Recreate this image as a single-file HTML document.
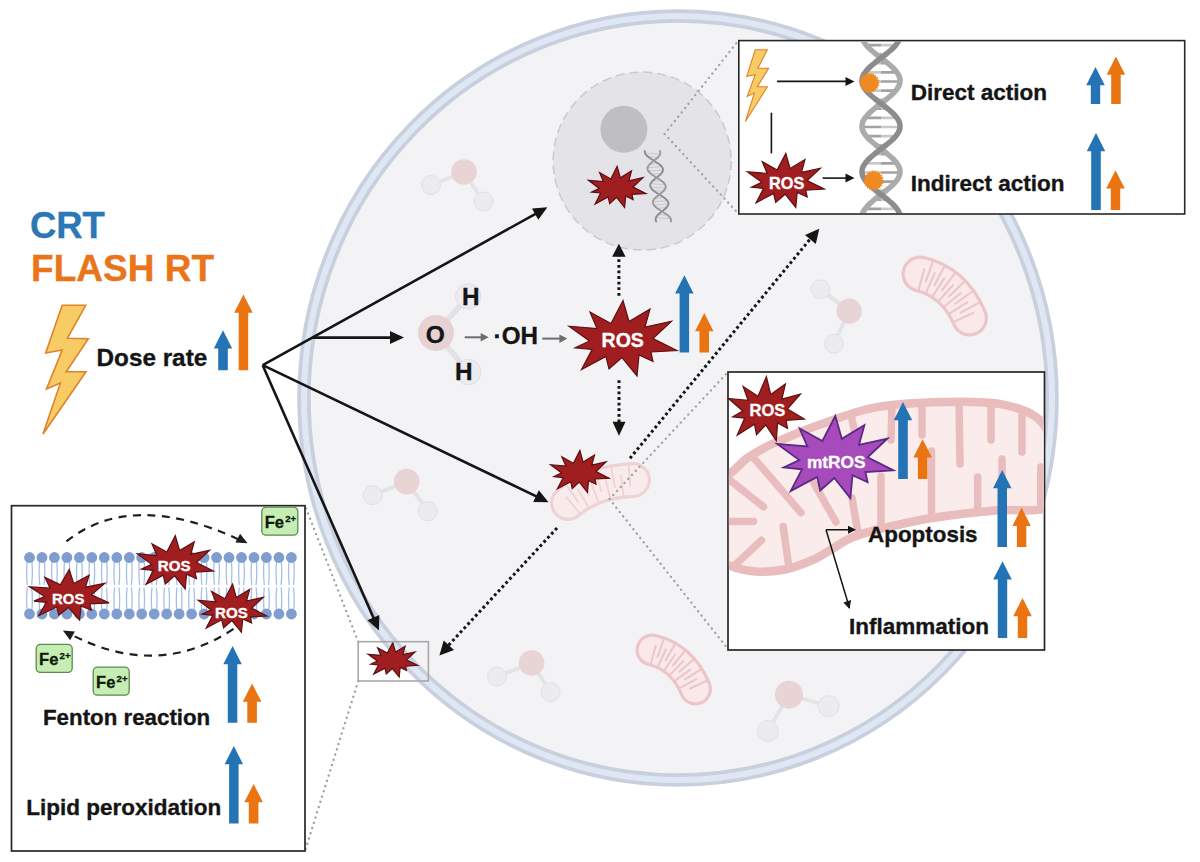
<!DOCTYPE html>
<html><head><meta charset="utf-8"><style>
html,body{margin:0;padding:0;background:#fff;}
svg{display:block;}
text{font-family:"Liberation Sans",sans-serif;font-weight:bold;}
</style></head><body>
<svg width="1200" height="862" viewBox="0 0 1200 862">
<rect x="0" y="0" width="1200" height="862" fill="#ffffff"/>
<ellipse cx="678" cy="398" rx="374" ry="382" fill="#f3f3f5"/>
<ellipse cx="678" cy="398" rx="374" ry="382" fill="none" stroke="#c8d0de" stroke-width="13.5"/>
<ellipse cx="678" cy="398" rx="374" ry="382" fill="none" stroke="#dfe7f4" stroke-width="6"/>
<g opacity="1.0"><line x1="464" y1="172" x2="431" y2="185" stroke="#e4e4e7" stroke-width="4"/><line x1="464" y1="172" x2="483.5" y2="201.5" stroke="#e4e4e7" stroke-width="4"/><circle cx="431" cy="185" r="9.5" fill="#ececef" stroke="#e1e1e5" stroke-width="1"/><circle cx="483.5" cy="201.5" r="9.5" fill="#ececef" stroke="#e1e1e5" stroke-width="1"/><circle cx="464" cy="172" r="12.8" fill="#e8d3d5"/></g>
<g opacity="1.0"><line x1="849.2" y1="311.2" x2="820.5" y2="289.3" stroke="#e4e4e7" stroke-width="4"/><line x1="849.2" y1="311.2" x2="833.9" y2="343.7" stroke="#e4e4e7" stroke-width="4"/><circle cx="820.5" cy="289.3" r="9.4" fill="#ececef" stroke="#e1e1e5" stroke-width="1"/><circle cx="833.9" cy="343.7" r="9.4" fill="#ececef" stroke="#e1e1e5" stroke-width="1"/><circle cx="849.2" cy="311.2" r="12.6" fill="#e8d3d5"/></g>
<g opacity="1.0"><line x1="406.8" y1="481.6" x2="372.7" y2="495.2" stroke="#e4e4e7" stroke-width="4"/><line x1="406.8" y1="481.6" x2="427.8" y2="511.2" stroke="#e4e4e7" stroke-width="4"/><circle cx="372.7" cy="495.2" r="9.5" fill="#ececef" stroke="#e1e1e5" stroke-width="1"/><circle cx="427.8" cy="511.2" r="9.5" fill="#ececef" stroke="#e1e1e5" stroke-width="1"/><circle cx="406.8" cy="481.6" r="12.8" fill="#e8d3d5"/></g>
<g opacity="1.0"><line x1="531.6" y1="663" x2="497" y2="676.6" stroke="#e4e4e7" stroke-width="4"/><line x1="531.6" y1="663" x2="550.6" y2="692" stroke="#e4e4e7" stroke-width="4"/><circle cx="497" cy="676.6" r="9.5" fill="#ececef" stroke="#e1e1e5" stroke-width="1"/><circle cx="550.6" cy="692" r="9.5" fill="#ececef" stroke="#e1e1e5" stroke-width="1"/><circle cx="531.6" cy="663" r="12.8" fill="#e8d3d5"/></g>
<g opacity="1.0"><line x1="789" y1="694.7" x2="828.6" y2="706.2" stroke="#e4e4e7" stroke-width="4"/><line x1="789" y1="694.7" x2="767.9" y2="731" stroke="#e4e4e7" stroke-width="4"/><circle cx="828.6" cy="706.2" r="10.5" fill="#ececef" stroke="#e1e1e5" stroke-width="1"/><circle cx="767.9" cy="731" r="10.5" fill="#ececef" stroke="#e1e1e5" stroke-width="1"/><circle cx="789" cy="694.7" r="14" fill="#e8d3d5"/></g>
<g opacity="1.0"><path d="M920,274 Q954,282 969.5,318" fill="none" stroke="#ebc5c8" stroke-width="37" stroke-linecap="round"/><path d="M920,274 Q954,282 969.5,318" fill="none" stroke="#fae8ea" stroke-width="30.6" stroke-linecap="round"/><path d="M918.5,290.1 L924.2,269.3 M933,261.2 L925.8,281.5 M926,292.7 L934.7,273.1 M944.5,266.3 L934.4,285.3 M932.7,296.3 L944.3,278.2 M955.1,273.1 L942.1,290.2 M938.8,300.9 L953.1,284.9 M964.5,281.5 L949.1,296.4 M944.3,306.6 L960.8,292.9 M972.7,291.3 L955.3,303.8 M949.3,313.6 L967.5,302.2 M979.7,302.4 L960.7,312.6 M953.8,321.9 L973.3,312.8 " stroke="#ebc5c8" stroke-width="2.0" stroke-linecap="round" fill="none"/></g>
<g opacity="1.0"><path d="M652,650 Q682,657 695.5,689" fill="none" stroke="#ebc5c8" stroke-width="33" stroke-linecap="round"/><path d="M652,650 Q682,657 695.5,689" fill="none" stroke="#fae8ea" stroke-width="26.6" stroke-linecap="round"/><path d="M650.7,664 L655.7,645.8 M663.9,639 L657.5,656.8 M657.9,666.6 L665.8,649.5 M674.9,644.1 L665.6,660.5 M664.3,670.2 L675,654.7 M684.9,650.9 L672.9,665.5 M669.9,674.9 L683.1,661.4 M693.6,659.4 L679.3,671.8 M675,680.8 L690.2,669.6 M701,669.4 L685,679.4 M679.6,688.1 L696.3,679.1 M707.1,680.7 L689.9,688.5 " stroke="#ebc5c8" stroke-width="2.0" stroke-linecap="round" fill="none"/></g>
<circle cx="642.2" cy="161.1" r="89" fill="#e4e4e8" stroke="#cacace" stroke-width="1.5" stroke-dasharray="9,5"/>
<circle cx="623.9" cy="129.3" r="23.5" fill="#bfbfc2"/>
<path d="M664.6,134 L738.8,40 M664.6,134 L738.8,214" stroke="#a0a0a0" stroke-width="2.3" stroke-dasharray="0.1,5.4" stroke-linecap="round" fill="none"/>
<path d="M358.2,641.7 L305,505.7 M358.2,681 L305,851" stroke="#a0a0a0" stroke-width="2.3" stroke-dasharray="0.1,5.4" stroke-linecap="round" fill="none"/>
<path d="M645,153 L660.3,154.2 M647.7,156.4 L658.7,157.6 M657.7,163.2 L650.8,164.4 M661.7,166.6 L648,167.8 M663,170 L647.8,171.2 M661.3,173.4 L650.5,174.6 M653.4,180.2 L660.6,181.4 M650.6,183.6 L664.5,184.8 M650.5,187 L665.7,188.2 M653.3,190.4 L664,191.6 M663.4,197.2 L656,198.4 M667.3,200.6 L653.3,201.8 M668.4,204 L653.3,205.2 M666.6,207.4 L656.2,208.6 M658.6,214.2 L666.3,215.4 M656,217.6 L670,218.8 " stroke="#c9c9cb" stroke-width="1" fill="none"/>
<polyline points="644.8,151 644.8,151.5 644.8,152 644.9,152.5 645,153 645.2,153.5 645.5,154 645.9,154.5 646.3,155 646.7,155.5 647.2,156 647.8,156.5 648.4,157 649.1,157.5 649.8,158 650.5,158.5 651.2,159 652,159.5 652.8,160 653.6,160.5 654.4,161 655.2,161.5 655.9,162 656.7,162.5 657.5,163 658.2,163.5 658.9,164 659.5,164.5 660.1,165 660.7,165.5 661.2,166 661.6,166.5 662,167 662.3,167.5 662.6,168 662.8,168.5 662.9,169 663,169.5 663,170 662.9,170.5 662.8,171 662.6,171.5 662.3,172 662,172.5 661.7,173 661.3,173.5 660.8,174 660.3,174.5 659.8,175 659.2,175.5 658.6,176 658,176.5 657.4,177 656.7,177.5 656.1,178 655.5,178.5 654.8,179 654.2,179.5 653.7,180 653.1,180.5 652.6,181 652.1,181.5 651.7,182 651.3,182.5 651,183 650.7,183.5 650.5,184 650.3,184.5 650.2,185 650.2,185.5 650.2,186 650.3,186.5 650.5,187 650.8,187.5 651.1,188 651.4,188.5 651.8,189 652.3,189.5 652.9,190 653.4,190.5 654.1,191 654.7,191.5 655.4,192 656.2,192.5 656.9,193 657.7,193.5 658.5,194 659.3,194.5 660.1,195 660.9,195.5 661.7,196 662.4,196.5 663.2,197 663.9,197.5 664.5,198 665.2,198.5 665.7,199 666.3,199.5 666.8,200 667.2,200.5 667.5,201 667.8,201.5 668.1,202 668.3,202.5 668.4,203 668.4,203.5 668.4,204 668.3,204.5 668.1,205 667.9,205.5 667.6,206 667.3,206.5 666.9,207 666.5,207.5 666,208 665.5,208.5 664.9,209 664.4,209.5 663.8,210 663.1,210.5 662.5,211 661.9,211.5 661.2,212 660.6,212.5 660,213 659.4,213.5 658.8,214 658.3,214.5 657.8,215 657.3,215.5 656.9,216 656.6,216.5 656.3,217 656,217.5 655.8,218 655.7,218.5 655.6,219 655.6,219.5 655.7,220 655.8,220.5 656,221 656.3,221.5" stroke="#8c8c8c" stroke-width="1.9" fill="none" stroke-linecap="round"/>
<polyline points="659.8,151 660,151.5 660.2,152 660.3,152.5 660.3,153 660.2,153.5 660.1,154 659.9,154.5 659.7,155 659.4,155.5 659,156 658.6,156.5 658.2,157 657.7,157.5 657.2,158 656.6,158.5 656,159 655.4,159.5 654.8,160 654.1,160.5 653.5,161 652.9,161.5 652.3,162 651.7,162.5 651.1,163 650.5,163.5 650,164 649.5,164.5 649.1,165 648.7,165.5 648.3,166 648,166.5 647.8,167 647.6,167.5 647.5,168 647.5,168.5 647.5,169 647.6,169.5 647.8,170 648,170.5 648.3,171 648.6,171.5 649.1,172 649.5,172.5 650,173 650.6,173.5 651.2,174 651.9,174.5 652.6,175 653.3,175.5 654.1,176 654.9,176.5 655.6,177 656.4,177.5 657.2,178 658,178.5 658.8,179 659.6,179.5 660.3,180 661,180.5 661.7,181 662.3,181.5 662.9,182 663.5,182.5 664,183 664.4,183.5 664.8,184 665.1,184.5 665.3,185 665.5,185.5 665.6,186 665.7,186.5 665.7,187 665.6,187.5 665.5,188 665.3,188.5 665,189 664.7,189.5 664.3,190 663.9,190.5 663.4,191 662.9,191.5 662.4,192 661.8,192.5 661.2,193 660.6,193.5 659.9,194 659.3,194.5 658.7,195 658,195.5 657.4,196 656.8,196.5 656.2,197 655.7,197.5 655.2,198 654.7,198.5 654.3,199 653.9,199.5 653.6,200 653.3,200.5 653.1,201 653,201.5 652.9,202 652.9,202.5 653,203 653.1,203.5 653.3,204 653.5,204.5 653.8,205 654.2,205.5 654.6,206 655.1,206.5 655.7,207 656.3,207.5 656.9,208 657.6,208.5 658.3,209 659,209.5 659.8,210 660.6,210.5 661.4,211 662.2,211.5 663,212 663.7,212.5 664.5,213 665.3,213.5 666,214 666.7,214.5 667.4,215 668,215.5 668.6,216 669.1,216.5 669.5,217 670,217.5 670.3,218 670.6,218.5 670.8,219 671,219.5 671.1,220 671.1,220.5 671.1,221 671,221.5" stroke="#9a9a9a" stroke-width="1.9" fill="none" stroke-linecap="round"/>
<polygon points="617.1,166.3 620.4,177.8 631.5,170.9 628.9,180.8 643,177.6 633.1,187 645.9,193.6 632,194.4 633.1,199.6 625.7,196 624.6,207.5 616.6,197.4 609.7,203.7 608.1,196.9 595.1,204 600.6,193 591.6,192.1 599.3,188.4 588.4,180.3 603.3,181.6 599.6,172.6 610.8,178.9" fill="#a01d20" stroke="#5c1012" stroke-width="1.2" stroke-linejoin="miter"/>
<g opacity="1.0"><path d="M568,503 Q592,482 633,480" fill="none" stroke="#efd2d4" stroke-width="36" stroke-linecap="round"/><path d="M568,503 Q592,482 633,480" fill="none" stroke="#f9ebec" stroke-width="29.6" stroke-linecap="round"/><path d="M579.7,513.3 L566.5,497.2 M566.4,484.7 L578.2,501.9 M588.5,507.2 L578,489.2 M580,476.8 L589,495.6 M598.6,502.3 L591,483 M595,470.9 L601.2,490.8 M610.3,498.7 L605.3,478.4 M611.2,466.9 L614.9,487.4 M623.5,496.3 L621,475.6 M628.7,464.8 L630.1,485.6 " stroke="#efd2d4" stroke-width="1.8" stroke-linecap="round" fill="none"/></g>
<path d="M609.5,499 L728,372 M609.5,499 L728,649" stroke="#a0a0a0" stroke-width="2.3" stroke-dasharray="0.1,5.4" stroke-linecap="round" fill="none"/>
<path d="M618.9,295.7 L618.9,254" stroke="#151515" stroke-width="3" stroke-dasharray="2.8,2.8" fill="none"/>
<path d="M618.9,243.8 L625.6,256.8 L612.1,256.8 Z" fill="#151515"/>
<path d="M619,380.3 L619,424" stroke="#151515" stroke-width="3" stroke-dasharray="2.8,2.8" fill="none"/>
<path d="M619,435.8 L612.5,421.8 L625.5,421.8 Z" fill="#151515"/>
<path d="M630,458.3 L811,238" stroke="#151515" stroke-width="3" stroke-dasharray="2.8,2.8" fill="none"/>
<path d="M819.3,228.7 L815.8,244 L805,235 Z" fill="#151515"/>
<path d="M557,528 L446,648" stroke="#151515" stroke-width="3" stroke-dasharray="2.8,2.8" fill="none"/>
<path d="M439.4,655.5 L443.7,640.5 L454,650 Z" fill="#151515"/>
<polygon points="579.9,450.4 583.1,462.1 594.5,455.1 591.8,465.1 606.1,461.9 596.1,471.5 609.1,478.2 595,479 596.1,484.3 588.5,480.7 587.5,492.4 579.3,482.1 572.2,488.5 570.7,481.6 557.4,488.8 563.1,477.7 553.9,476.7 561.7,472.9 550.6,464.7 565.8,466 561.9,456.8 573.4,463.2" fill="#a01d20" stroke="#5c1012" stroke-width="1.2" stroke-linejoin="miter"/>
<polygon points="392.8,642.5 395.5,652.1 405.1,646.4 402.8,654.6 415,652 406.5,659.9 417.5,665.4 405.6,666.1 406.5,670.5 400.1,667.5 399.2,677.1 392.3,668.6 386.3,673.9 385,668.2 373.7,674.1 378.5,665 370.8,664.2 377.4,661 368,654.3 380.8,655.3 377.6,647.8 387.3,653.1" fill="#a01d20" stroke="#5c1012" stroke-width="1.2" stroke-linejoin="miter"/>
<rect x="358.2" y="641.7" width="70.2" height="39.3" fill="none" stroke="#a8a8a8" stroke-width="1.6"/>
<line x1="262.7" y1="365.2" x2="536" y2="213.6" stroke="#151515" stroke-width="2.6"/>
<path d="M547.4,207.3 L538.3,219.8 L532,208.4 Z" fill="#151515"/>
<line x1="312.3" y1="337.6" x2="391" y2="337.6" stroke="#151515" stroke-width="2.6"/>
<path d="M404,337.6 L390,344.1 L390,331.1 Z" fill="#151515"/>
<line x1="262.7" y1="365.2" x2="536.9" y2="496.6" stroke="#151515" stroke-width="2.6"/>
<path d="M548.6,502.2 L533.2,502 L538.8,490.3 Z" fill="#151515"/>
<line x1="262.7" y1="365.2" x2="373.8" y2="618.5" stroke="#151515" stroke-width="2.6"/>
<path d="M379,630.4 L367.4,620.2 L379.3,615 Z" fill="#151515"/>
<g opacity="1.0"><line x1="436" y1="332.9" x2="468.3" y2="296.3" stroke="#e2e2e5" stroke-width="5.5"/><line x1="436" y1="332.9" x2="468.3" y2="372" stroke="#e2e2e5" stroke-width="5.5"/><circle cx="468.3" cy="296.3" r="12.7" fill="#ececef" stroke="#e0e0e4" stroke-width="1"/><circle cx="468.3" cy="372" r="12.7" fill="#ececef" stroke="#e0e0e4" stroke-width="1"/><circle cx="436" cy="332.9" r="18" fill="#e6d1d3"/></g>
<text x="425.8" y="343.3" font-size="24.5" fill="#151515" stroke="#151515" stroke-width="0.35" >O</text>
<text x="462.1" y="305.3" font-size="24.3" fill="#151515" stroke="#151515" stroke-width="0.35" >H</text>
<text x="454.9" y="380" font-size="24.3" fill="#151515" stroke="#151515" stroke-width="0.35" >H</text>
<line x1="464.7" y1="337.3" x2="481.7" y2="337.3" stroke="#6e6e6e" stroke-width="2"/>
<path d="M488.7,337.3 L480.7,341.6 L480.7,333.1 Z" fill="#6e6e6e"/>
<text x="493.6" y="344" font-size="24.2" fill="#151515" stroke="#151515" stroke-width="0.35" >·OH</text>
<line x1="542.3" y1="338.6" x2="560.4" y2="338.6" stroke="#6e6e6e" stroke-width="2"/>
<path d="M567.4,338.6 L559.4,342.9 L559.4,334.4 Z" fill="#6e6e6e"/>
<polygon points="623,300.5 629,321.5 650,309 645,327 671.5,321.2 653,338.5 677,350.5 651,352 653,361.5 639,355 637,376 622,357.5 609,369 606,356.5 581.5,369.5 592,349.5 575,347.8 589.5,341 569,326.2 597,328.5 590,312 611,323.5" fill="#a01d20" stroke="#5c1012" stroke-width="1.2" stroke-linejoin="miter"/>
<text x="601.6" y="346.7" font-size="19.5" fill="#ffffff" stroke="#ffffff" stroke-width="0.35" >ROS</text>
<path d="M684.4,275.3 L693.6,293.6 L689.1,293.6 L689.1,352.5 L679.6,352.5 L679.6,293.6 L675.1,293.6 Z" fill="#2474b5"/>
<path d="M704.3,313 L713.5,331.3 L709,331.3 L709,352.5 L699.5,352.5 L699.5,331.3 L695,331.3 Z" fill="#ea7411"/>
<text x="29.9" y="237.6" font-size="36.5" fill="#2a78b6" stroke="#2a78b6" stroke-width="0.35" >CRT</text>
<text x="31.1" y="281" font-size="37" fill="#e9741a" stroke="#e9741a" stroke-width="0.35" >FLASH RT</text>
<polygon points="62.2,305.3 85.7,305.3 67.4,338.3 88.3,338.7 66.2,371.7 86.0,371.7 43.0,434.0 60.4,383.0 46.5,389.1 62.2,350.0 45.7,353.0" fill="#f7cc64" stroke="#e0822c" stroke-width="1.6" stroke-linejoin="miter"/>
<text x="96.5" y="365.5" font-size="24.3" fill="#151515" stroke="#151515" stroke-width="0.35" >Dose rate</text>
<path d="M223,330.2 L232.2,348.5 L227.8,348.5 L227.8,370.2 L218.2,370.2 L218.2,348.5 L213.8,348.5 Z" fill="#2474b5"/>
<path d="M243.4,294.5 L252.7,312.8 L248.2,312.8 L248.2,370.2 L238.7,370.2 L238.7,312.8 L234.2,312.8 Z" fill="#ea7411"/>
<rect x="738.8" y="40.6" width="445.9" height="173.4" fill="#ffffff" stroke="#262626" stroke-width="1.6"/>
<clipPath id="trc"><rect x="739.7" y="40.9" width="444.1" height="172.2"/></clipPath>
<g clip-path="url(#trc)"><path d="M900,36 L881,36 M895.8,45.1 L881,45.1 M885.9,54.2 L881,54.2 M874.2,63.3 L881,63.3 M865.1,72.4 L881,72.4 M862,81.5 L881,81.5 M866.2,90.6 L881,90.6 M876.1,99.7 L881,99.7 M887.8,108.8 L881,108.8 M896.9,117.9 L881,117.9 M900,127 L881,127 M895.8,136.1 L881,136.1 M885.9,145.2 L881,145.2 M874.2,154.3 L881,154.3 M865.1,163.4 L881,163.4 M862,172.5 L881,172.5 M866.2,181.6 L881,181.6 M876.1,190.7 L881,190.7 M887.8,199.8 L881,199.8 M896.9,208.9 L881,208.9 M900,218 L881,218 " stroke="#c9c9c9" stroke-width="2.6" fill="none"/><path d="M881,36 L862,36 M881,45.1 L866.2,45.1 M881,54.2 L876.1,54.2 M881,63.3 L887.8,63.3 M881,72.4 L896.9,72.4 M881,81.5 L900,81.5 M881,90.6 L895.8,90.6 M881,99.7 L885.9,99.7 M881,108.8 L874.2,108.8 M881,117.9 L865.1,117.9 M881,127 L862,127 M881,136.1 L866.2,136.1 M881,145.2 L876.1,145.2 M881,154.3 L887.8,154.3 M881,163.4 L896.9,163.4 M881,172.5 L900,172.5 M881,181.6 L895.8,181.6 M881,190.7 L885.9,190.7 M881,199.8 L874.2,199.8 M881,208.9 L865.1,208.9 M881,218 L862,218 " stroke="#a2a2a2" stroke-width="2.6" fill="none"/><polyline points="863.2,30 862.8,31 862.5,32 862.2,33 862.1,34 862,35 862,36 862.1,37 862.3,38 862.6,39 863,40 863.5,41 864,42 864.7,43 865.4,44 866.1,45 867,46 867.9,47 868.9,48 869.9,49 871,50 872.2,51 873.4,52 874.6,53 875.8,54 877.1,55 878.4,56 879.7,57 881,58 882.3,59 883.6,60 884.9,61 886.2,62 887.4,63 888.6,64 889.8,65 891,66 892.1,67 893.1,68 894.1,69 895,70 895.9,71 896.6,72 897.3,73 898,74 898.5,75 899,76 899.4,77 899.7,78 899.9,79 900,80 900,81 899.9,82 899.8,83 899.5,84 899.2,85 898.8,86 898.3,87 897.7,88 897,89 896.3,90 895.4,91 894.6,92 893.6,93 892.6,94 891.5,95 890.4,96 889.2,97 888,98 886.8,99 885.5,100 884.3,101 883,102 881.7,103 880.3,104 879,105 877.7,106 876.5,107 875.2,108 874,109 872.8,110 871.6,111 870.5,112 869.4,113 868.4,114 867.4,115 866.6,116 865.7,117 865,118 864.3,119 863.7,120 863.2,121 862.8,122 862.5,123 862.2,124 862.1,125 862,126 862,127 862.1,128 862.3,129 862.6,130 863,131 863.5,132 864,133 864.7,134 865.4,135 866.1,136 867,137 867.9,138 868.9,139 869.9,140 871,141 872.2,142 873.4,143 874.6,144 875.8,145 877.1,146 878.4,147 879.7,148 881,149 882.3,150 883.6,151 884.9,152 886.2,153 887.4,154 888.6,155 889.8,156 891,157 892.1,158 893.1,159 894.1,160 895,161 895.9,162 896.6,163 897.3,164 898,165 898.5,166 899,167 899.4,168 899.7,169 899.9,170 900,171 900,172 899.9,173 899.8,174 899.5,175 899.2,176 898.8,177 898.3,178 897.7,179 897,180 896.3,181 895.4,182 894.6,183 893.6,184 892.6,185 891.5,186 890.4,187 889.2,188 888,189 886.8,190 885.5,191 884.3,192 883,193 881.7,194 880.3,195 879,196 877.7,197 876.5,198 875.2,199 874,200 872.8,201 871.6,202 870.5,203 869.4,204 868.4,205 867.4,206 866.6,207 865.7,208 865,209 864.3,210 863.7,211 863.2,212 862.8,213 862.5,214 862.2,215 862.1,216 862,217 862,218 862.1,219 862.3,220 862.6,221 863,222 863.5,223 864,224 864.7,225 865.4,226 866.1,227 867,228 867.9,229" stroke="#ababab" stroke-width="5.5" fill="none"/><polyline points="898.8,30 899.2,31 899.5,32 899.8,33 899.9,34 900,35 900,36 899.9,37 899.7,38 899.4,39 899,40 898.5,41 898,42 897.3,43 896.6,44 895.9,45 895,46 894.1,47 893.1,48 892.1,49 891,50 889.8,51 888.6,52 887.4,53 886.2,54 884.9,55 883.6,56 882.3,57 881,58 879.7,59 878.4,60 877.1,61 875.8,62 874.6,63 873.4,64 872.2,65 871,66 869.9,67 868.9,68 867.9,69 867,70 866.1,71 865.4,72 864.7,73 864,74 863.5,75 863,76 862.6,77 862.3,78 862.1,79 862,80 862,81 862.1,82 862.2,83 862.5,84 862.8,85 863.2,86 863.7,87 864.3,88 865,89 865.7,90 866.6,91 867.4,92 868.4,93 869.4,94 870.5,95 871.6,96 872.8,97 874,98 875.2,99 876.5,100 877.7,101 879,102 880.3,103 881.7,104 883,105 884.3,106 885.5,107 886.8,108 888,109 889.2,110 890.4,111 891.5,112 892.6,113 893.6,114 894.6,115 895.4,116 896.3,117 897,118 897.7,119 898.3,120 898.8,121 899.2,122 899.5,123 899.8,124 899.9,125 900,126 900,127 899.9,128 899.7,129 899.4,130 899,131 898.5,132 898,133 897.3,134 896.6,135 895.9,136 895,137 894.1,138 893.1,139 892.1,140 891,141 889.8,142 888.6,143 887.4,144 886.2,145 884.9,146 883.6,147 882.3,148 881,149 879.7,150 878.4,151 877.1,152 875.8,153 874.6,154 873.4,155 872.2,156 871,157 869.9,158 868.9,159 867.9,160 867,161 866.1,162 865.4,163 864.7,164 864,165 863.5,166 863,167 862.6,168 862.3,169 862.1,170 862,171 862,172 862.1,173 862.2,174 862.5,175 862.8,176 863.2,177 863.7,178 864.3,179 865,180 865.7,181 866.6,182 867.4,183 868.4,184 869.4,185 870.5,186 871.6,187 872.8,188 874,189 875.2,190 876.5,191 877.7,192 879,193 880.3,194 881.7,195 883,196 884.3,197 885.5,198 886.8,199 888,200 889.2,201 890.4,202 891.5,203 892.6,204 893.6,205 894.6,206 895.4,207 896.3,208 897,209 897.7,210 898.3,211 898.8,212 899.2,213 899.5,214 899.8,215 899.9,216 900,217 900,218 899.9,219 899.7,220 899.4,221 899,222 898.5,223 898,224 897.3,225 896.6,226 895.9,227 895,228 894.1,229" stroke="#8c8c8c" stroke-width="5.5" fill="none"/></g>
<polygon points="880,82.9 878,84.1 879.6,85.9 877.3,86.5 878.3,88.6 876,88.5 876.4,90.8 874.2,90.1 873.9,92.5 871.9,91.2 871,93.3 869.5,91.5 868,93.3 867.1,91.2 865.1,92.5 864.8,90.1 862.6,90.8 863,88.5 860.7,88.6 861.7,86.5 859.4,85.9 861,84.1 859,82.9 861,81.7 859.4,79.9 861.7,79.3 860.7,77.2 863,77.3 862.6,75 864.8,75.7 865.1,73.3 867.1,74.6 868,72.5 869.5,74.3 871,72.5 871.9,74.6 873.9,73.3 874.2,75.7 876.4,75 876,77.3 878.3,77.2 877.3,79.3 879.6,79.9 878,81.7" fill="#ef8a22"/>
<polygon points="884.2,180.5 882.2,181.7 883.8,183.5 881.5,184.1 882.5,186.2 880.2,186.1 880.6,188.4 878.4,187.7 878.1,190.1 876.1,188.8 875.2,190.9 873.7,189.1 872.2,190.9 871.3,188.8 869.3,190.1 869,187.7 866.8,188.4 867.2,186.1 864.9,186.2 865.9,184.1 863.6,183.5 865.2,181.7 863.2,180.5 865.2,179.3 863.6,177.5 865.9,176.9 864.9,174.8 867.2,174.9 866.8,172.6 869,173.3 869.3,170.9 871.3,172.2 872.2,170.1 873.7,171.9 875.2,170.1 876.1,172.2 878.1,170.9 878.4,173.3 880.6,172.6 880.2,174.9 882.5,174.8 881.5,176.9 883.8,177.5 882.2,179.3" fill="#ef8a22"/>
<polygon points="755.2,49.8 767.3,49.8 757.9,68.2 768.6,68.4 757.3,86.8 767.4,86.8 745.4,121.5 754.3,93.1 747.2,96.5 755.2,74.7 746.8,76.4" fill="#f7cc64" stroke="#e0822c" stroke-width="1.1"/>
<line x1="777" y1="81.4" x2="846.5" y2="81.4" stroke="#151515" stroke-width="1.6"/>
<path d="M854.5,81.4 L845.5,85.9 L845.5,76.9 Z" fill="#151515"/>
<line x1="771.4" y1="112.7" x2="771.4" y2="153.4" stroke="#151515" stroke-width="1.6"/>
<polygon points="785.8,153.4 790.1,168.4 805,159.5 801.5,172.4 820.4,168.2 807.2,180.6 824.3,189.1 805.7,190.2 807.2,197 797.2,192.4 795.8,207.4 785.1,194.2 775.7,202.4 773.6,193.5 756.1,202.8 763.6,188.4 751.5,187.2 761.8,182.3 747.2,171.8 767.2,173.4 762.2,161.6 777.2,169.9" fill="#a01d20" stroke="#5c1012" stroke-width="1.2" stroke-linejoin="miter"/>
<text x="769.1" y="188.7" font-size="16.3" fill="#ffffff" stroke="#ffffff" stroke-width="0.35" >ROS</text>
<line x1="822.6" y1="178.1" x2="846.5" y2="178.1" stroke="#151515" stroke-width="1.6"/>
<path d="M854.5,178.1 L845.5,182.6 L845.5,173.6 Z" fill="#151515"/>
<text x="910.7" y="100.2" font-size="22.5" fill="#151515" stroke="#151515" stroke-width="0.35" >Direct action</text>
<text x="910.7" y="190.8" font-size="22.5" fill="#151515" stroke="#151515" stroke-width="0.35" >Indirect action</text>
<path d="M1095.5,67 L1104.8,85.3 L1100.2,85.3 L1100.2,104 L1090.8,104 L1090.8,85.3 L1086.2,85.3 Z" fill="#2474b5"/>
<path d="M1115.9,56.4 L1125.2,74.7 L1120.7,74.7 L1120.7,104 L1111.2,104 L1111.2,74.7 L1106.7,74.7 Z" fill="#ea7411"/>
<path d="M1096,132.9 L1105.2,151.2 L1100.8,151.2 L1100.8,209.9 L1091.2,209.9 L1091.2,151.2 L1086.8,151.2 Z" fill="#2474b5"/>
<path d="M1115.5,170.2 L1124.8,188.5 L1120.2,188.5 L1120.2,209.9 L1110.8,209.9 L1110.8,188.5 L1106.2,188.5 Z" fill="#ea7411"/>
<rect x="728" y="372" width="316.5" height="278" fill="#ffffff" stroke="#262626" stroke-width="1.7"/>
<clipPath id="mbc"><rect x="728.9" y="372.9" width="314.7" height="276.2"/></clipPath>
<g clip-path="url(#mbc)"><path d="M700,492 C705.3,484.2 722.3,479 730,473.5 C737.7,468 740,463.4 746,459 C752,454.6 759.3,450.5 766,447 C772.7,443.5 777.2,441.7 786,438 C794.8,434.3 804.8,429.9 819,425 C833.2,420.1 852.2,412.1 871,408.3 C889.8,404.5 911.3,403.1 932,402.3 C952.7,401.5 977.7,400.9 995,403.3 C1012.3,405.8 1026.2,410.1 1036,417 C1045.8,423.9 1050.3,434.5 1054,445 C1057.7,455.5 1059,469.6 1058,480 C1057,490.4 1058.5,502.4 1048,507.5 C1037.5,512.6 1014.3,508.8 995,510.5 C975.7,512.2 951.2,514.9 932,518 C912.8,521.1 893.3,525.8 880,529 C866.7,532.2 860,534.2 852,537.5 C844,540.8 838.6,545.2 832,549 C825.4,552.8 820.3,556.6 812.5,560 C804.7,563.4 794.5,567.6 785,569.5 C775.5,571.4 764.8,572.1 755.6,571.5 C746.4,570.9 738.4,569 730,565.8 C721.6,562.5 710.3,559.6 705,552 C699.7,544.4 698.8,530 698,520 C697.2,510 694.7,499.8 700,492 Z" fill="#fbecec" stroke="#e9bcbd" stroke-width="8.5"/><path d="M892,405 L891,440 M922,403 L922,435 M959,403 L960,464 M991,403 L991,440 M1022,410 L1022,452 M881,525 L881,476 M931.5,516 L931.5,451 M977.7,512 L977.7,477 M1002,510 L1002,459 M1040.8,508 L1040.8,467 M752,456 L801,512.7 M731,481 L763.5,506.8 M726,521.6 L753.6,521.6 M789,568 L783.2,526.5 M735,565 L761.5,540.3 M812,480 L836,522 M851,415 L858,447 M858,533 L852,498 " stroke="#e9bcbd" stroke-width="7.5" stroke-linecap="round" fill="none"/></g>
<polygon points="766.4,376.7 770.7,394.5 785.4,383.9 781.9,399.2 800.5,394.2 787.5,408.9 804.4,419.1 786.1,420.3 787.5,428.4 777.6,422.9 776.3,440.7 765.7,425 756.5,434.7 754.5,424.2 737.2,435.2 744.6,418.2 732.6,416.8 742.8,411 728.4,398.5 748.1,400.4 743.1,386.4 758,396.2" fill="#a01d20" stroke="#5c1012" stroke-width="1.2" stroke-linejoin="miter"/>
<text x="749.5" y="415.7" font-size="16.5" fill="#ffffff" stroke="#ffffff" stroke-width="0.35" >ROS</text>
<polygon points="835.3,416 841.8,438.8 864.4,425.2 859,444.8 887.5,438.5 867.6,457.3 893.4,470.4 865.4,472 867.6,482.3 852.5,475.3 850.4,498.1 834.3,478 820.2,490.5 817.1,476.9 790.7,491 802,469.3 783.7,467.4 799.3,460 777.2,443.9 807.3,446.5 799.7,428.5 822.4,441" fill="#a64abc" stroke="#5a2a85" stroke-width="1.8" stroke-linejoin="miter"/>
<text x="807" y="468.3" font-size="17.3" fill="#ffffff" stroke="#ffffff" stroke-width="0.35" >mtROS</text>
<path d="M903,402 L912.2,420.3 L907.8,420.3 L907.8,479 L898.2,479 L898.2,420.3 L893.8,420.3 Z" fill="#2474b5"/>
<path d="M922.6,439.2 L931.9,457.5 L927.4,457.5 L927.4,479 L917.9,479 L917.9,457.5 L913.4,457.5 Z" fill="#ea7411"/>
<path d="M826,529.8 L850,529.8 M826,529.8 L849.5,608" stroke="#151515" stroke-width="1.5" fill="none"/>
<path d="M856,529.8 L848,533.8 L848,525.8 Z" fill="#151515"/>
<path d="M849.5,608.9 L843.4,602.4 L851.1,600.1 Z" fill="#151515"/>
<text x="868.1" y="542.3" font-size="22.4" fill="#151515" stroke="#151515" stroke-width="0.35" >Apoptosis</text>
<text x="849.1" y="633.7" font-size="22.5" fill="#151515" stroke="#151515" stroke-width="0.35" >Inflammation</text>
<path d="M1002.2,470 L1011.5,488.3 L1007,488.3 L1007,546.9 L997.5,546.9 L997.5,488.3 L993,488.3 Z" fill="#2474b5"/>
<path d="M1021.6,507.6 L1030.8,525.9 L1026.3,525.9 L1026.3,546.9 L1016.9,546.9 L1016.9,525.9 L1012.4,525.9 Z" fill="#ea7411"/>
<path d="M1002.5,561.3 L1011.8,579.6 L1007.2,579.6 L1007.2,638 L997.8,638 L997.8,579.6 L993.2,579.6 Z" fill="#2474b5"/>
<path d="M1022.5,598 L1031.8,616.3 L1027.2,616.3 L1027.2,638 L1017.8,638 L1017.8,616.3 L1013.2,616.3 Z" fill="#ea7411"/>
<rect x="11.5" y="505.7" width="293.5" height="345.3" fill="#ffffff" stroke="#262626" stroke-width="1.7"/>
<path d="M27.1,561 Q26.1,573 27.3,585 M27.1,610 Q26.1,598 27.3,587.5 M31.9,561 Q32.9,573 31.7,585 M31.9,610 Q32.9,598 31.7,587.5 M39.6,561 Q38.6,573 39.8,585 M39.6,610 Q38.6,598 39.8,587.5 M44.4,561 Q45.3,573 44.1,585 M44.4,610 Q45.3,598 44.1,587.5 M52,561 Q51.1,573 52.3,585 M52,610 Q51.1,598 52.3,587.5 M56.8,561 Q57.8,573 56.6,585 M56.8,610 Q57.8,598 56.6,587.5 M64.5,561 Q63.5,573 64.8,585 M64.5,610 Q63.5,598 64.8,587.5 M69.3,561 Q70.3,573 69.1,585 M69.3,610 Q70.3,598 69.1,587.5 M77,561 Q76,573 77.2,585 M77,610 Q76,598 77.2,587.5 M81.8,561 Q82.7,573 81.5,585 M81.8,610 Q82.7,598 81.5,587.5 M89.4,561 Q88.5,573 89.7,585 M89.4,610 Q88.5,598 89.7,587.5 M94.2,561 Q95.2,573 94,585 M94.2,610 Q95.2,598 94,587.5 M101.9,561 Q101,573 102.2,585 M101.9,610 Q101,598 102.2,587.5 M106.7,561 Q107.7,573 106.5,585 M106.7,610 Q107.7,598 106.5,587.5 M114.4,561 Q113.4,573 114.6,585 M114.4,610 Q113.4,598 114.6,587.5 M119.2,561 Q120.2,573 119,585 M119.2,610 Q120.2,598 119,587.5 M126.9,561 Q125.9,573 127.1,585 M126.9,610 Q125.9,598 127.1,587.5 M131.7,561 Q132.6,573 131.4,585 M131.7,610 Q132.6,598 131.4,587.5 M139.3,561 Q138.4,573 139.6,585 M139.3,610 Q138.4,598 139.6,587.5 M144.1,561 Q145.1,573 143.9,585 M144.1,610 Q145.1,598 143.9,587.5 M151.8,561 Q150.8,573 152,585 M151.8,610 Q150.8,598 152,587.5 M156.6,561 Q157.6,573 156.4,585 M156.6,610 Q157.6,598 156.4,587.5 M164.3,561 Q163.3,573 164.5,585 M164.3,610 Q163.3,598 164.5,587.5 M169.1,561 Q170,573 168.8,585 M169.1,610 Q170,598 168.8,587.5 M176.7,561 Q175.8,573 177,585 M176.7,610 Q175.8,598 177,587.5 M181.5,561 Q182.5,573 181.3,585 M181.5,610 Q182.5,598 181.3,587.5 M189.2,561 Q188.2,573 189.5,585 M189.2,610 Q188.2,598 189.5,587.5 M194,561 Q195,573 193.8,585 M194,610 Q195,598 193.8,587.5 M201.7,561 Q200.7,573 201.9,585 M201.7,610 Q200.7,598 201.9,587.5 M206.5,561 Q207.4,573 206.2,585 M206.5,610 Q207.4,598 206.2,587.5 M214.2,561 Q213.2,573 214.4,585 M214.2,610 Q213.2,598 214.4,587.5 M219,561 Q219.9,573 218.7,585 M219,610 Q219.9,598 218.7,587.5 M226.6,561 Q225.7,573 226.9,585 M226.6,610 Q225.7,598 226.9,587.5 M231.4,561 Q232.4,573 231.2,585 M231.4,610 Q232.4,598 231.2,587.5 M239.1,561 Q238.1,573 239.3,585 M239.1,610 Q238.1,598 239.3,587.5 M243.9,561 Q244.9,573 243.7,585 M243.9,610 Q244.9,598 243.7,587.5 M251.6,561 Q250.6,573 251.8,585 M251.6,610 Q250.6,598 251.8,587.5 M256.4,561 Q257.3,573 256.1,585 M256.4,610 Q257.3,598 256.1,587.5 M264,561 Q263.1,573 264.3,585 M264,610 Q263.1,598 264.3,587.5 M268.8,561 Q269.8,573 268.6,585 M268.8,610 Q269.8,598 268.6,587.5 M276.5,561 Q275.5,573 276.7,585 M276.5,610 Q275.5,598 276.7,587.5 M281.3,561 Q282.3,573 281.1,585 M281.3,610 Q282.3,598 281.1,587.5 M289,561 Q288,573 289.2,585 M289,610 Q288,598 289.2,587.5 M293.8,561 Q294.7,573 293.5,585 M293.8,610 Q294.7,598 293.5,587.5 " stroke="#a5c0e8" stroke-width="1.3" fill="none"/>
<g fill="#7f9dcf"><circle cx="29.5" cy="557.5" r="5.4"/><circle cx="29.5" cy="614" r="5.4"/><circle cx="42" cy="557.5" r="5.4"/><circle cx="42" cy="614" r="5.4"/><circle cx="54.4" cy="557.5" r="5.4"/><circle cx="54.4" cy="614" r="5.4"/><circle cx="66.9" cy="557.5" r="5.4"/><circle cx="66.9" cy="614" r="5.4"/><circle cx="79.4" cy="557.5" r="5.4"/><circle cx="79.4" cy="614" r="5.4"/><circle cx="91.8" cy="557.5" r="5.4"/><circle cx="91.8" cy="614" r="5.4"/><circle cx="104.3" cy="557.5" r="5.4"/><circle cx="104.3" cy="614" r="5.4"/><circle cx="116.8" cy="557.5" r="5.4"/><circle cx="116.8" cy="614" r="5.4"/><circle cx="129.3" cy="557.5" r="5.4"/><circle cx="129.3" cy="614" r="5.4"/><circle cx="141.7" cy="557.5" r="5.4"/><circle cx="141.7" cy="614" r="5.4"/><circle cx="154.2" cy="557.5" r="5.4"/><circle cx="154.2" cy="614" r="5.4"/><circle cx="166.7" cy="557.5" r="5.4"/><circle cx="166.7" cy="614" r="5.4"/><circle cx="179.1" cy="557.5" r="5.4"/><circle cx="179.1" cy="614" r="5.4"/><circle cx="191.6" cy="557.5" r="5.4"/><circle cx="191.6" cy="614" r="5.4"/><circle cx="204.1" cy="557.5" r="5.4"/><circle cx="204.1" cy="614" r="5.4"/><circle cx="216.6" cy="557.5" r="5.4"/><circle cx="216.6" cy="614" r="5.4"/><circle cx="229" cy="557.5" r="5.4"/><circle cx="229" cy="614" r="5.4"/><circle cx="241.5" cy="557.5" r="5.4"/><circle cx="241.5" cy="614" r="5.4"/><circle cx="254" cy="557.5" r="5.4"/><circle cx="254" cy="614" r="5.4"/><circle cx="266.4" cy="557.5" r="5.4"/><circle cx="266.4" cy="614" r="5.4"/><circle cx="278.9" cy="557.5" r="5.4"/><circle cx="278.9" cy="614" r="5.4"/><circle cx="291.4" cy="557.5" r="5.4"/><circle cx="291.4" cy="614" r="5.4"/></g>
<path d="M66.4,541.4 Q131.6,489.5 240,540" stroke="#1e1e1e" stroke-width="2.2" stroke-dasharray="8,6.5" fill="none"/>
<path d="M247.5,543.2 L235.4,542.5 L240.1,533.7 Z" fill="#1e1e1e"/>
<path d="M233.5,628.8 Q157.8,679.75 70,634" stroke="#1e1e1e" stroke-width="2.2" stroke-dasharray="8,6.5" fill="none"/>
<path d="M62.9,630.5 L74.9,631.5 L70.1,640.2 Z" fill="#1e1e1e"/>
<polygon points="175.3,535.7 179.6,550.5 194.3,541.7 190.8,554.4 209.5,550.3 196.5,562.5 213.4,571 195,572.1 196.5,578.8 186.6,574.2 185.2,589 174.6,575.9 165.4,584 163.3,575.2 146,584.4 153.4,570.3 141.4,569.1 151.7,564.3 137.2,553.8 156.9,555.5 152,543.8 166.8,552" fill="#a01d20" stroke="#5c1012" stroke-width="1.2" stroke-linejoin="miter"/>
<text x="157.8" y="570.7" font-size="15.1" fill="#ffffff" stroke="#ffffff" stroke-width="0.35" >ROS</text>
<polygon points="69.2,569.5 73.7,583.5 89.1,575.2 85.5,587.2 104.9,583.3 91.4,594.9 109,602.9 89.8,603.9 91.4,610.3 81,606 79.6,620 68.5,607.6 58.9,615.3 56.8,607 38.7,615.7 46.4,602.3 33.9,601.1 44.6,596.6 29.5,586.7 50.1,588.2 44.9,577.2 60.4,584.9" fill="#a01d20" stroke="#5c1012" stroke-width="1.2" stroke-linejoin="miter"/>
<text x="52.1" y="603.6" font-size="14.9" fill="#ffffff" stroke="#ffffff" stroke-width="0.35" >ROS</text>
<polygon points="232.5,584 236.3,597.4 249.7,589.4 246.5,601 263.3,597.2 251.6,608.3 266.8,616 250.3,616.9 251.6,623 242.7,618.9 241.4,632.3 231.9,620.5 223.6,627.8 221.7,619.8 206.2,628.1 212.8,615.3 202,614.2 211.2,609.9 198.2,600.4 216,601.9 211.5,591.3 224.9,598.7" fill="#a01d20" stroke="#5c1012" stroke-width="1.2" stroke-linejoin="miter"/>
<text x="215" y="617.5" font-size="15.1" fill="#ffffff" stroke="#ffffff" stroke-width="0.35" >ROS</text>
<rect x="36.2" y="644.4" width="36" height="28" rx="4.2" fill="#c6edb4" stroke="#5b8b4b" stroke-width="1.3"/>
<text x="39.1" y="664.9" font-size="16.5" fill="#0f1a0c" stroke="#0f1a0c" stroke-width="0.3">Fe<tspan font-size="9.6" dx="1.2" dy="-6">2+</tspan></text>
<rect x="93.2" y="667.2" width="36" height="28" rx="4.2" fill="#c6edb4" stroke="#5b8b4b" stroke-width="1.3"/>
<text x="96.1" y="687.7" font-size="16.5" fill="#0f1a0c" stroke="#0f1a0c" stroke-width="0.3">Fe<tspan font-size="9.6" dx="1.2" dy="-6">2+</tspan></text>
<rect x="261.8" y="507.2" width="36" height="28" rx="4.2" fill="#c6edb4" stroke="#5b8b4b" stroke-width="1.3"/>
<text x="264.7" y="527.7" font-size="16.5" fill="#0f1a0c" stroke="#0f1a0c" stroke-width="0.3">Fe<tspan font-size="9.6" dx="1.2" dy="-6">2+</tspan></text>
<text x="43" y="724.7" font-size="22.3" fill="#151515" stroke="#151515" stroke-width="0.35" >Fenton reaction</text>
<text x="26.2" y="815.4" font-size="22.5" fill="#151515" stroke="#151515" stroke-width="0.35" >Lipid peroxidation</text>
<path d="M232.6,646 L241.8,664.3 L237.3,664.3 L237.3,722.8 L227.8,722.8 L227.8,664.3 L223.3,664.3 Z" fill="#2474b5"/>
<path d="M252.1,683.4 L261.4,701.7 L256.9,701.7 L256.9,722.8 L247.3,722.8 L247.3,701.7 L242.8,701.7 Z" fill="#ea7411"/>
<path d="M233.8,746 L243.1,764.3 L238.6,764.3 L238.6,823.4 L229.1,823.4 L229.1,764.3 L224.6,764.3 Z" fill="#2474b5"/>
<path d="M253.6,784 L262.9,802.3 L258.4,802.3 L258.4,823.4 L248.8,823.4 L248.8,802.3 L244.3,802.3 Z" fill="#ea7411"/>
</svg>
</body></html>
